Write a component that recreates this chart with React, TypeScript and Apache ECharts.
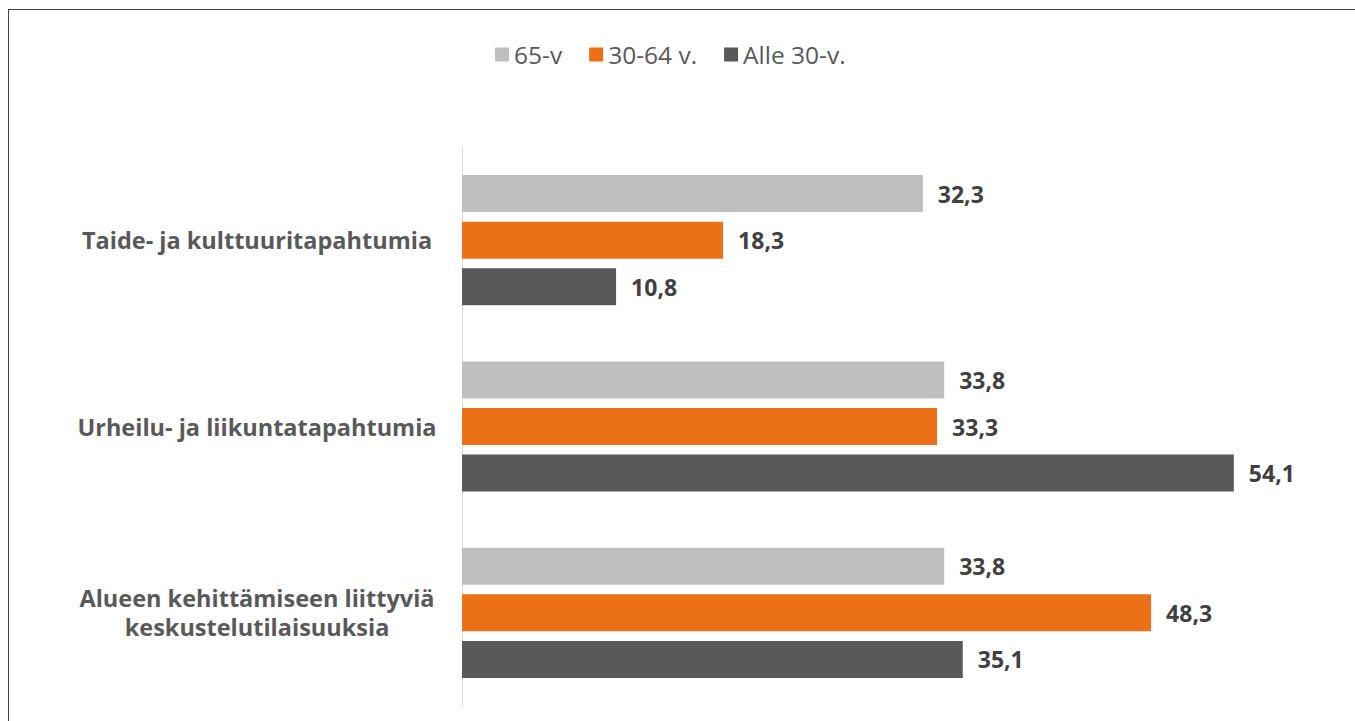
import React, { useEffect, useRef } from "react";
import * as echarts from "echarts";

const categories = [
  "Taide- ja kulttuuritapahtumia",
  "Urheilu- ja liikuntatapahtumia",
  "Alueen kehittämiseen liittyviä\nkeskustelutilaisuuksia",
];
const seriesNames = ["65-v", "30-64 v.", "Alle 30-v."];
const values65 = [32.3, 33.8, 33.8];
const values3064 = [18.3, 33.3, 48.3];
const valuesAlle30 = [10.8, 54.1, 35.1];
const colors = ["#bfbfbf", "#eb7018", "#595959"];

const FONT = "'Open Sans', Lato, sans-serif";

export default function App() {
  const ref = useRef<HTMLDivElement>(null);
  useEffect(() => {
    if (!ref.current) return;
    const chart = echarts.init(ref.current, null, { renderer: "svg" });
    const data = [values65, values3064, valuesAlle30];
    chart.setOption({
      animation: false,
      textStyle: { fontFamily: FONT },
      legend: {
        top: 27,
        left: 481,
        itemWidth: 14,
        itemHeight: 14,
        itemGap: 27,
        icon: "rect",
        textStyle: { fontSize: 24.5, color: "#595959", fontFamily: FONT },
        data: seriesNames,
      },
      grid: { left: 453, top: 137, width: 856, height: 559, containLabel: false },
      xAxis: {
        type: "value",
        min: 0,
        max: 60,
        show: false,
        splitLine: { show: false },
      },
      yAxis: {
        type: "category",
        inverse: true,
        data: categories,
        axisLine: { show: true, lineStyle: { color: "#d9d9d9", width: 1 } },
        axisTick: { show: false },
        axisLabel: {
          align: "center",
          margin: 205,
          fontSize: 23.5,
          fontWeight: "bold",
          color: "#595959",
          lineHeight: 29,
          fontFamily: FONT,
        },
      },
      series: seriesNames.map((name, i) => ({
        name,
        type: "bar",
        data: data[i],
        barWidth: 37,
        barGap: "26%",
        itemStyle: { color: colors[i] },
        label: {
          show: true,
          position: "right",
          distance: 15,
          fontSize: 23,
          fontWeight: "bold",
          color: "#404040",
          fontFamily: FONT,
          formatter: (p: any) => String(p.value.toFixed(1)).replace(".", ","),
        },
      })),
    });
    return () => chart.dispose();
  }, []);
  return (
    <div
      style={{
        position: "fixed",
        left: 8,
        top: 9,
        width: 1347,
        height: 712,
        borderTop: "1px solid #404040",
        borderLeft: "1px solid #404040",
        background: "#fff",
      }}
    >
      <div ref={ref} style={{ width: 1346, height: 711 }} />
    </div>
  );
}
